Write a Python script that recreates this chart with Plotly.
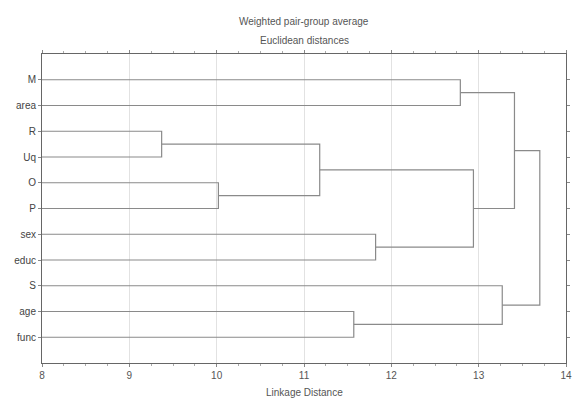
import plotly.graph_objects as go

# Leaves, top to bottom
leaves = ["M", "area", "R", "Uq", "O", "P", "sex", "educ", "S", "age", "func"]
# Merges: (left cluster, right cluster, linkage distance)
merges = [
    ("R", "Uq", 9.37),
    ("O", "P", 10.02),
    ("RUq", "OP", 11.18),
    ("age", "func", 11.57),
    ("sex", "educ", 11.82),
    ("M", "area", 12.79),
    ("RUqOP", "sexeduc", 12.94),
    ("S", "agefunc", 13.27),
    ("Marea", "RUqOPsexeduc", 13.41),
    ("MareaRUqOPsexeduc", "Sagefunc", 13.70),
]
x_ticks = [8, 9, 10, 11, 12, 13, 14]

line_color = "#8a8a8a"
pos = {name: (i + 1, 0.0) for i, name in enumerate(leaves)}
xs, ys = [], []
for a, b, h in merges:
    ya, ha = pos[a]
    yb, hb = pos[b]
    xs += [ha, h, h, hb, None]
    ys += [ya, ya, yb, yb, None]
    pos[a + b] = ((ya + yb) / 2, h)

fig = go.Figure()
fig.add_trace(go.Scatter(x=xs, y=ys, mode="lines",
                         line=dict(color=line_color, width=1.2),
                         hoverinfo="skip", showlegend=False))

H, T, B = 400, 54, 37
plot_h = H - T - B
def paper_y(px):
    return 1 - (px - T) / plot_h

font_family = "Liberation Sans, Arial, sans-serif"
fig.update_layout(
    width=572, height=400,
    margin=dict(l=42, r=6, t=T, b=B),
    paper_bgcolor="white", plot_bgcolor="white",
    font=dict(family=font_family, size=10, color="#444"),
    showlegend=False,
    annotations=[
        dict(text="Weighted pair-group average", xref="paper", yref="paper",
             x=0.5, y=paper_y(22), xanchor="center", yanchor="middle",
             showarrow=False, font=dict(size=10, color="#555")),
        dict(text="Euclidean distances", xref="paper", yref="paper",
             x=0.5, y=paper_y(41), xanchor="center", yanchor="middle",
             showarrow=False, font=dict(size=10, color="#555")),
        dict(text="Linkage Distance", xref="paper", yref="paper",
             x=0.5, y=paper_y(392), xanchor="center", yanchor="middle",
             showarrow=False, font=dict(size=10, color="#555")),
    ],
)
fig.update_xaxes(
    range=[8, 14], tickvals=x_ticks, ticktext=[str(v) for v in x_ticks],
    showgrid=True, gridcolor="#e2e2e2", gridwidth=1, automargin=False,
    zeroline=False, showline=True, linecolor="#666", linewidth=1, mirror="ticks",
    ticks="outside", ticklen=3, tickcolor="#888",
    minor=dict(dtick=0.25, ticks="outside", ticklen=2, tickcolor="#aaa", showgrid=False),
    tickfont=dict(size=10, color="#555"),
)
fig.update_yaxes(
    range=[12.0, 0.0], tickvals=list(range(1, len(leaves) + 1)), ticktext=leaves,
    showgrid=False, zeroline=False, showline=True, linecolor="#666", linewidth=1,
    mirror="ticks", ticks="outside", ticklen=3, tickcolor="#888", automargin=False,
    tickfont=dict(size=10, color="#444"),
)
fig.write_html(
    "out.html",
    config={"displayModeBar": False},
    post_script="document.body.style.margin='0';document.body.style.overflow='hidden';",
)
